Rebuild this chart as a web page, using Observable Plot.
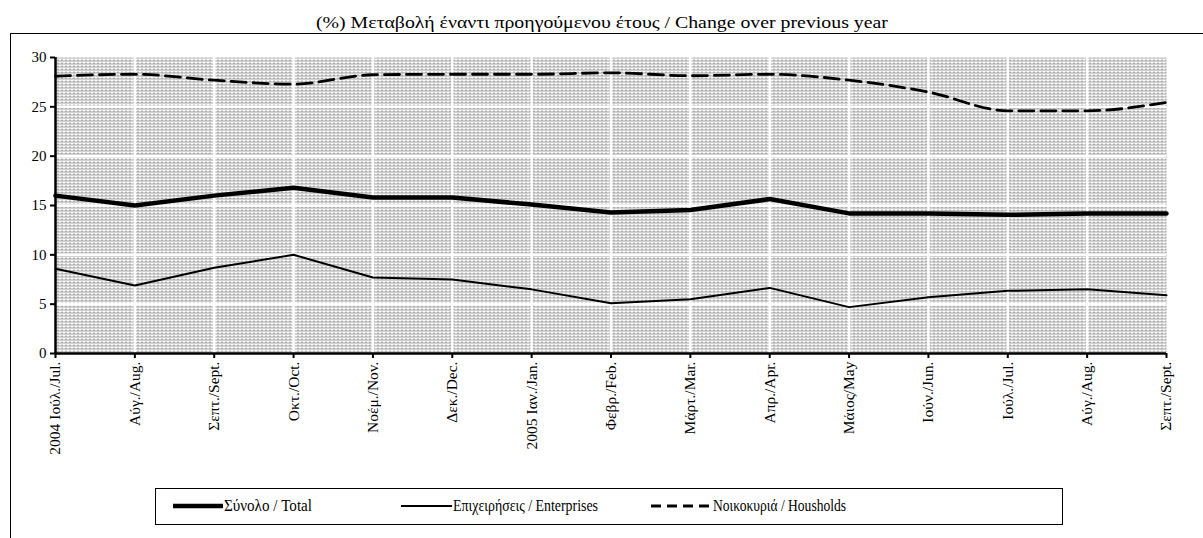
<!DOCTYPE html>
<html>
<head>
<meta charset="utf-8">
<script src="https://cdn.jsdelivr.net/npm/d3@7"></script>
<script src="https://cdn.jsdelivr.net/npm/@observablehq/plot@0.6"></script>
<style>
  html, body { margin: 0; padding: 0; background: #fff; }
  body { width: 1203px; height: 538px; position: relative; overflow: hidden; font-family: "Liberation Serif", serif; }
  #box { position: absolute; left: 10px; top: 33px; width: 1200px; height: 520px; border-left: 1.3px solid #000; border-top: 1.3px solid #000; }
  #title { position: absolute; left: 0; top: 14px; width: 1203px; text-align: center; font-size: 16px; line-height: 18px; }
  #title span { display: inline-block; transform-origin: center; }
  #chart { position: absolute; left: 0; top: 0; }
  #legend { position: absolute; left: 155px; top: 488px; width: 906px; height: 35px; border: 1.5px solid #000; background: #fff; }
  .lt { position: absolute; top: 7px; font-size: 17px; line-height: 20px; white-space: nowrap; transform-origin: left center; }
  .ls { position: absolute; top: 0; }
</style>
</head>
<body>
<div id="box"></div>
<div id="title"><span id="tt">(%) Μεταβολή έναντι προηγούμενου έτους / Change over previous year</span></div>
<div id="chart"></div>
<div id="legend"></div>
<script>
// ---- data ----
const months = ["2004 Ιούλ./Jul.", "Αύγ./Aug.", "Σεπτ./Sept.", "Οκτ./Oct.", "Νοέμ./Nov.", "Δεκ./Dec.", "2005 Ιαν./Jan.", "Φεβρ./Feb.", "Μάρτ./Mar.", "Απρ./Apr.", "Μάιος/May", "Ιούν./Jun.", "Ιούλ./Jul.", "Αύγ./Aug.", "Σεπτ./Sept."];
const total       = [16.0, 15.0, 16.0, 16.8, 15.8, 15.8, 15.1, 14.3, 14.55, 15.65, 14.2, 14.2, 14.05, 14.2, 14.2];
const enterprises = [8.6, 6.9, 8.7, 10.0, 7.7, 7.5, 6.5, 5.1, 5.5, 6.65, 4.7, 5.7, 6.35, 6.5, 5.9];
const households  = [28.1, 28.3, 27.7, 27.3, 28.25, 28.3, 28.3, 28.45, 28.15, 28.3, 27.7, 26.5, 24.6, 24.6, 25.45];
const yTicks = [0, 5, 10, 15, 20, 25, 30];
const seriesNames = ["Σύνολο / Total", "Επιχειρήσεις / Enterprises", "Νοικοκυριά / Housholds"];

const idx = d3.range(months.length);
const rows = (vals) => idx.map(i => ({i, v: vals[i]}));

const plot = Plot.plot({
  width: 1203,
  height: 538,
  marginLeft: 55,
  marginRight: 37,
  marginTop: 57,
  marginBottom: 185,
  style: {fontFamily: "Liberation Serif, serif", fontSize: "14px", color: "#000", background: "transparent"},
  x: {type: "linear", domain: [0, months.length - 1]},
  y: {domain: [0, 30]},
  marks: [
    Plot.frame({fill: "#c8c8c8", stroke: null}),
    Plot.gridY(yTicks.filter(t => t > 0 && t < 30), {stroke: "#fff", strokeOpacity: 1, strokeWidth: 2.5}),
    Plot.gridX(idx.slice(1, -1), {stroke: "#fff", strokeOpacity: 1, strokeWidth: 2.5}),
    Plot.line(rows(households), {x: "i", y: "v", stroke: "#000", strokeWidth: 2.8, strokeDasharray: "15,7", curve: "monotone-x"}),
    Plot.line(rows(enterprises), {x: "i", y: "v", stroke: "#000", strokeWidth: 2}),
    Plot.line(rows(total), {x: "i", y: "v", stroke: "#000", strokeWidth: 4.5, strokeLinejoin: "round"}),
    Plot.axisY({ticks: yTicks, tickSize: 5, tickPadding: 4, fontSize: 15, strokeWidth: 2, label: null}),
    Plot.axisX({ticks: idx, tickFormat: i => months[i], tickRotate: -90, tickSize: 5, tickPadding: 3, fontSize: 15.5, strokeWidth: 2, label: null}),
    Plot.ruleX([0], {stroke: "#000", strokeWidth: 2.5}),
    Plot.ruleY([0], {stroke: "#000", strokeWidth: 2.5})
  ]
});
document.getElementById("chart").appendChild(plot);

// stipple pattern for plot area
const ns = "http://www.w3.org/2000/svg";
const defs = document.createElementNS(ns, "defs");
defs.innerHTML = `<pattern id="stip" width="4" height="3" patternUnits="userSpaceOnUse">
  <rect width="4" height="3" fill="#fff"/>
  <rect x="0" y="0" width="1" height="1" fill="#444"/>
  <rect x="2" y="0" width="1" height="1" fill="#444"/>
  <rect x="1" y="2" width="1" height="1" fill="#777"/>
</pattern>`;
plot.insertBefore(defs, plot.firstChild);
const frameRect = plot.querySelector("rect[fill='#c8c8c8']") || plot.querySelector("g[aria-label='frame'] rect") || plot.querySelector("rect");
if (frameRect) frameRect.setAttribute("fill", "url(#stip)");

// title width fit
const tt = document.getElementById("tt");
const tw = tt.getBoundingClientRect().width;
tt.style.transform = `scaleX(${572 / tw})`;

// legend
const legend = document.getElementById("legend");
const items = [
  {name: seriesNames[0], x0: 17, x1: 67, w: 4.5, dash: null, textW: 88},
  {name: seriesNames[1], x0: 245, x1: 296, w: 2, dash: null, textW: 145},
  {name: seriesNames[2], x0: 495, x1: 556, w: 2.8, dash: "10,6", textW: 133}
];
items.forEach(it => {
  const s = document.createElementNS(ns, "svg");
  s.setAttribute("class", "ls");
  s.setAttribute("width", 906);
  s.setAttribute("height", 35);
  s.style.left = "0px";
  const l = document.createElementNS(ns, "line");
  l.setAttribute("x1", it.x0); l.setAttribute("x2", it.x1);
  l.setAttribute("y1", 17); l.setAttribute("y2", 17);
  l.setAttribute("stroke", "#000"); l.setAttribute("stroke-width", it.w);
  if (it.dash) l.setAttribute("stroke-dasharray", it.dash);
  s.appendChild(l);
  legend.appendChild(s);
  const t = document.createElement("div");
  t.className = "lt";
  t.textContent = it.name;
  t.style.left = (it.x1 + 1) + "px";
  legend.appendChild(t);
  const w = t.getBoundingClientRect().width;
  t.style.transform = `scaleX(${it.textW / w})`;
});
</script>
</body>
</html>
